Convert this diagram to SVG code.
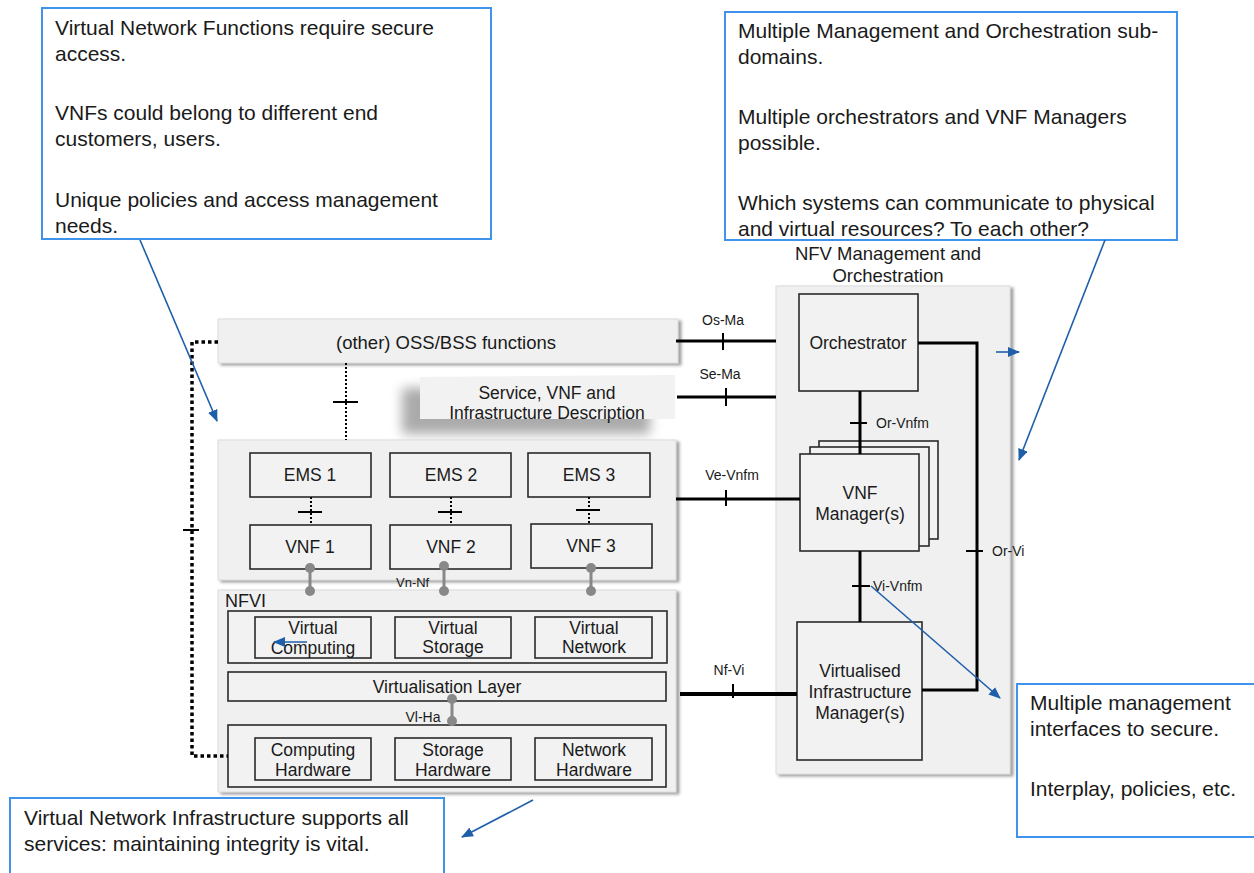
<svg xmlns="http://www.w3.org/2000/svg" width="1254" height="873" viewBox="0 0 1254 873">
<defs>
<style>
text{font-family:"Liberation Sans",Arial,sans-serif;fill:#1a1a1a}
.call{fill:#fff;stroke:#3f93ea;stroke-width:2}
.ct{font-size:21px}
.panel{fill:#f0f0f0;stroke:#dcdcdc;stroke-width:1}
.box{fill:#f2f2f2;stroke:#2a2a2a;stroke-width:1.6}
.bt{font-size:17.5px;text-anchor:middle}
.lbl{font-size:14px}
.ln{stroke:#000;stroke-width:3;fill:none}
.tick{stroke:#000;stroke-width:2;fill:none}
.dot{stroke:#000;stroke-width:2;stroke-dasharray:2 2;fill:none}
.gdot{stroke:#000;stroke-width:3.5;stroke-dasharray:3.5 3;fill:none}
.gray{stroke:#888;stroke-width:3;fill:none}
.gc{fill:#888}
.blue{stroke:#1f5faa;stroke-width:1.6;fill:none;marker-end:url(#ah)}
</style>
<filter id="sh" x="-5%" y="-5%" width="115%" height="115%"><feDropShadow dx="3" dy="2" stdDeviation="1.5" flood-color="#777" flood-opacity="0.7"/></filter>
<filter id="blur" x="-20%" y="-50%" width="140%" height="200%"><feGaussianBlur stdDeviation="6"/></filter>
<marker id="ah" viewBox="0 0 12 10" markerWidth="12" markerHeight="10" refX="11" refY="5" orient="auto" markerUnits="userSpaceOnUse"><path d="M0,0 L12,5 L0,10 z" fill="#1f5faa"/></marker>
</defs>
<rect width="1254" height="873" fill="#fff"/>

<!-- Panels -->
<g id="oss">
<rect class="panel" x="218" y="319" width="460" height="44" filter="url(#sh)"/>
<text class="bt" x="446" y="349" style="font-size:18.5px">(other) OSS/BSS functions</text>
</g>
<g id="service-desc">
<rect x="402" y="388" width="248" height="46" fill="#666" opacity="0.55" filter="url(#blur)"/>
<path d="M420,377 L675,375 L675,419 L420,419 z" fill="#f2f2f2"/>
<text class="bt" x="547" y="399">Service, VNF and</text>
<text class="bt" x="547" y="419">Infrastructure Description</text>
</g>
<g id="vnf-area">
<rect class="panel" x="218" y="440" width="458" height="140" filter="url(#sh)"/>
</g>
<g id="ems1"><rect class="box" x="250" y="453" width="121" height="44"/><text class="bt" x="310" y="481">EMS 1</text></g>
<g id="ems2"><rect class="box" x="390" y="453" width="121" height="44"/><text class="bt" x="451" y="481">EMS 2</text></g>
<g id="ems3"><rect class="box" x="528" y="453" width="122" height="44"/><text class="bt" x="589" y="481">EMS 3</text></g>
<g id="vnf1"><rect class="box" x="250" y="525" width="121" height="44"/><text class="bt" x="310" y="553">VNF 1</text></g>
<g id="vnf2"><rect class="box" x="390" y="525" width="121" height="44"/><text class="bt" x="451" y="553">VNF 2</text></g>
<g id="vnf3"><rect class="box" x="531" y="524" width="121" height="44"/><text class="bt" x="591" y="552">VNF 3</text></g>

<g id="nfvi">
<rect class="panel" x="218" y="590" width="458" height="202" filter="url(#sh)"/>
<text x="225" y="607" style="font-size:18px">NFVI</text>
<rect class="box" x="228" y="611" width="439" height="52"/>
<rect class="box" x="228" y="725" width="438" height="62"/>
</g>
<g id="virtual-computing"><rect class="box" x="255" y="617" width="116" height="41"/><text class="bt" x="313" y="634">Virtual</text><text class="bt" x="313" y="654">Computing</text></g>
<g id="virtual-storage"><rect class="box" x="395" y="617" width="116" height="41"/><text class="bt" x="453" y="634">Virtual</text><text class="bt" x="453" y="653">Storage</text></g>
<g id="virtual-network"><rect class="box" x="535" y="617" width="117" height="41"/><text class="bt" x="594" y="634">Virtual</text><text class="bt" x="594" y="653">Network</text></g>
<g id="virtualisation-layer"><rect class="box" x="228" y="672" width="438" height="29"/><text class="bt" x="447" y="693">Virtualisation Layer</text></g>
<g id="computing-hw"><rect class="box" x="255" y="738" width="116" height="42"/><text class="bt" x="313" y="756">Computing</text><text class="bt" x="313" y="776">Hardware</text></g>
<g id="storage-hw"><rect class="box" x="395" y="738" width="116" height="42"/><text class="bt" x="453" y="756">Storage</text><text class="bt" x="453" y="776">Hardware</text></g>
<g id="network-hw"><rect class="box" x="535" y="738" width="117" height="42"/><text class="bt" x="594" y="756">Network</text><text class="bt" x="594" y="776">Hardware</text></g>

<g id="mano">
<rect class="panel" x="776" y="286" width="234" height="488" filter="url(#sh)"/>
<text class="bt" x="888" y="260" style="font-size:18.5px">NFV Management and</text>
<text class="bt" x="888" y="282" style="font-size:18.5px">Orchestration</text>
</g>
<g id="orchestrator"><rect class="box" x="799" y="294" width="119" height="97"/><text class="bt" x="858" y="349">Orchestrator</text></g>
<g id="vnf-manager">
<rect class="box" x="819" y="441" width="119" height="98"/>
<rect class="box" x="810" y="447" width="119" height="99"/>
<rect class="box" x="800" y="454" width="119" height="97"/>
<text class="bt" x="860" y="499">VNF</text>
<text class="bt" x="860" y="520">Manager(s)</text>
</g>
<g id="vim"><rect class="box" x="797" y="622" width="125" height="138"/>
<text class="bt" x="860" y="677">Virtualised</text><text class="bt" x="860" y="698">Infrastructure</text><text class="bt" x="860" y="719">Manager(s)</text></g>

<!-- Connectors -->
<g id="connectors">
<path class="gdot" d="M218,342 H192 V756 H228"/>
<line class="tick" x1="183" y1="530" x2="199" y2="530"/>
<line class="dot" x1="346" y1="363" x2="346" y2="440"/>
<line class="tick" x1="333" y1="402" x2="358" y2="402"/>
<line class="dot" x1="311" y1="497" x2="311" y2="525"/>
<line class="tick" x1="298" y1="512" x2="322" y2="512"/>
<line class="dot" x1="451" y1="497" x2="451" y2="525"/>
<line class="tick" x1="438" y1="512" x2="462" y2="512"/>
<line class="dot" x1="589" y1="497" x2="589" y2="524"/>
<line class="tick" x1="576" y1="510" x2="600" y2="510"/>
<line class="gray" x1="310" y1="568" x2="310" y2="591"/><circle class="gc" cx="310" cy="568" r="5"/><circle class="gc" cx="310" cy="591" r="5"/>
<line class="gray" x1="444" y1="566" x2="444" y2="591"/><circle class="gc" cx="444" cy="566" r="5"/><circle class="gc" cx="444" cy="591" r="5"/>
<line class="gray" x1="591" y1="568" x2="591" y2="591"/><circle class="gc" cx="591" cy="568" r="5"/><circle class="gc" cx="591" cy="591" r="5"/>
<text class="lbl" x="396" y="587" style="font-size:13px">Vn-Nf</text>
<line class="gray" x1="452" y1="699" x2="452" y2="721"/><circle class="gc" cx="452" cy="699" r="5"/><circle class="gc" cx="452" cy="721" r="5"/>
<text class="lbl" x="423" y="722" text-anchor="middle">Vl-Ha</text>
<line class="ln" x1="676" y1="341" x2="776" y2="341"/>
<line class="tick" x1="723" y1="333" x2="723" y2="350"/>
<text class="lbl" x="723" y="325" text-anchor="middle">Os-Ma</text>
<line class="ln" x1="677" y1="397" x2="776" y2="397"/>
<line class="tick" x1="726" y1="388" x2="726" y2="406"/>
<text class="lbl" x="720" y="379" text-anchor="middle">Se-Ma</text>
<line class="ln" x1="676" y1="499" x2="800" y2="499"/>
<line class="tick" x1="726" y1="490" x2="726" y2="506"/>
<text class="lbl" x="732" y="480" text-anchor="middle">Ve-Vnfm</text>
<line class="ln" x1="680" y1="694" x2="797" y2="694" style="stroke-width:4"/>
<line class="tick" x1="733" y1="684" x2="733" y2="698"/>
<text class="lbl" x="729" y="675" text-anchor="middle">Nf-Vi</text>
<line class="ln" x1="860" y1="391" x2="860" y2="454"/>
<line class="tick" x1="850" y1="423" x2="867" y2="423"/>
<text class="lbl" x="876" y="428">Or-Vnfm</text>
<line class="ln" x1="860" y1="551" x2="860" y2="622"/>
<line class="tick" x1="852" y1="586" x2="870" y2="586"/>
<text class="lbl" x="873" y="591">Vi-Vnfm</text>
<path class="ln" d="M918,343 H977 V690 H922"/>
<line class="tick" x1="966" y1="551" x2="983" y2="551"/>
<text class="lbl" x="992" y="556">Or-Vi</text>
</g>

<!-- Callouts -->
<g id="callout-vnf">
<rect class="call" x="42" y="8" width="449" height="231"/>
<text class="ct" x="55" y="35">Virtual Network Functions require secure</text>
<text class="ct" x="55" y="61">access.</text>
<text class="ct" x="55" y="120">VNFs could belong to different end</text>
<text class="ct" x="55" y="146">customers, users.</text>
<text class="ct" x="55" y="207">Unique policies and access management</text>
<text class="ct" x="55" y="233">needs.</text>
</g>
<g id="callout-mano">
<rect class="call" x="725" y="12" width="452" height="228"/>
<text class="ct" x="738" y="38">Multiple Management and Orchestration sub-</text>
<text class="ct" x="738" y="64">domains.</text>
<text class="ct" x="738" y="124">Multiple orchestrators and VNF Managers</text>
<text class="ct" x="738" y="150">possible.</text>
<text class="ct" x="738" y="210">Which systems can communicate to physical</text>
<text class="ct" x="738" y="236">and virtual resources? To each other?</text>
</g>
<g id="callout-interfaces">
<rect class="call" x="1017" y="684" width="250" height="153"/>
<text class="ct" x="1030" y="710">Multiple management</text>
<text class="ct" x="1030" y="736">interfaces to secure.</text>
<text class="ct" x="1030" y="796">Interplay, policies, etc.</text>
</g>
<g id="callout-nfvi">
<rect class="call" x="10" y="798" width="434" height="90"/>
<text class="ct" x="24" y="825">Virtual Network Infrastructure supports all</text>
<text class="ct" x="24" y="851">services: maintaining integrity is vital.</text>
</g>

<g id="callout-arrows">
<line class="blue" x1="140" y1="240" x2="217" y2="421"/>
<line class="blue" x1="1105" y1="240" x2="1019" y2="460"/>
<line class="blue" x1="996" y1="352" x2="1019" y2="352"/>
<line class="blue" x1="871" y1="586" x2="1000" y2="698"/>
<line class="blue" x1="307" y1="642" x2="274" y2="642"/>
<line class="blue" x1="533" y1="800" x2="462" y2="837"/>
</g>
</svg>
